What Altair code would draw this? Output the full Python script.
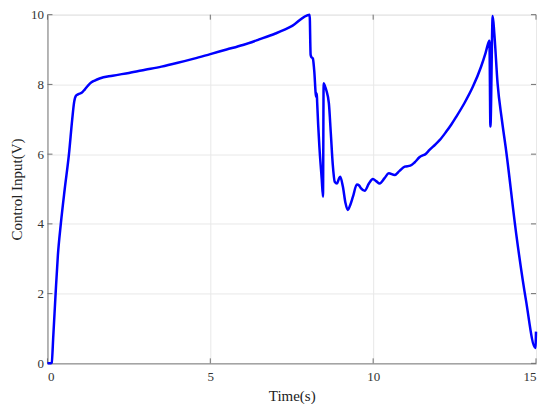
import altair as alt
import pandas as pd

time = [0, 0.1, 0.13, 0.18, 0.25, 0.32, 0.41, 0.53, 0.66, 0.76, 0.82, 0.88, 0.95, 1.05,
        1.15, 1.25, 1.35, 1.45, 1.6, 2.0, 2.5, 3.0, 3.5, 4.0, 4.5, 5.0, 5.5, 6.0, 6.5,
        7.0, 7.5, 8.05, 8.08, 8.10, 8.15, 8.19, 8.25, 8.27, 8.28, 8.35, 8.42, 8.46,
        8.48, 8.52, 8.56, 8.64, 8.70, 8.76, 8.82, 8.89, 8.95, 8.99, 9.07, 9.15, 9.22,
        9.30, 9.38, 9.50, 9.57, 9.63, 9.74, 9.87, 9.99, 10.10, 10.20, 10.35, 10.48,
        10.66, 10.81, 10.97, 11.14, 11.27, 11.42, 11.63, 11.73, 11.9, 12.04, 12.24,
        12.4, 12.55, 12.80, 13.06, 13.31, 13.45, 13.55, 13.57, 13.60, 13.67, 13.72,
        13.82, 13.95, 14.08, 14.39, 14.69, 14.98, 15.0]
ctrl = [0, 0, 0.02, 0.8, 2.0, 3.1, 4.0, 5.0, 6.0, 7.0, 7.5, 7.68, 7.72, 7.76,
        7.86, 7.97, 8.06, 8.11, 8.17, 8.25, 8.33, 8.42, 8.51, 8.62, 8.74, 8.87, 9.0,
        9.13, 9.29, 9.46, 9.67, 10.0, 8.85, 8.79, 8.74, 8.4, 7.64, 7.74, 7.5, 6.2,
        5.3, 4.78, 8.03, 7.95, 7.84, 7.46, 6.6, 5.7, 5.21, 5.16, 5.3, 5.35, 5.07,
        4.6, 4.40, 4.55, 4.78, 5.13, 5.10, 5.02, 4.95, 5.16, 5.29, 5.22, 5.16, 5.31,
        5.45, 5.40, 5.52, 5.64, 5.67, 5.76, 5.91, 6.02, 6.12, 6.27, 6.40, 6.64, 6.85,
        7.07, 7.46, 7.93, 8.50, 8.9, 9.22, 9.25, 6.79, 9.96, 9.46, 8.03, 7.0, 6.12,
        3.73, 1.82, 0.44, 0.91]

x_ticks = [0, 5, 10, 15]
y_ticks = [0, 2, 4, 6, 8, 10]

W, H = 489, 349
FONT = "Liberation Serif"

df = pd.DataFrame({"time": time, "ctrl": ctrl})
dfx = pd.DataFrame({"time": x_ticks})
dfy = pd.DataFrame({"ctrl": y_ticks})

xaxis = alt.Axis(values=x_ticks, title="Time(s)", ticks=False, labelPadding=7,
                 titlePadding=5, domainColor="#808080", gridColor="#e8e8e8",
                 labelColor="#333333", titleColor="#222222", labelFontSize=13,
                 titleFontSize=15, labelFont=FONT, titleFont=FONT,
                 titleFontWeight="normal")
yaxis = alt.Axis(values=y_ticks, title="Control Input(V)", ticks=False, labelPadding=4,
                 titlePadding=6, domainColor="#808080", gridColor="#e8e8e8",
                 labelColor="#333333", titleColor="#222222", labelFontSize=13,
                 titleFontSize=15, labelFont=FONT, titleFont=FONT,
                 titleFontWeight="normal")
xs = alt.Scale(domain=[0, 15], nice=False)
ys = alt.Scale(domain=[0, 10], nice=False)

line = alt.Chart(df).mark_line(color="#0000ff", strokeWidth=2.5, interpolate="monotone").encode(
    x=alt.X("time:Q", scale=xs, axis=xaxis),
    y=alt.Y("ctrl:Q", scale=ys, axis=yaxis),
)

tick_col = "#707070"
xb = alt.Chart(dfx).mark_rule(color=tick_col, strokeWidth=1).encode(
    x=alt.X("time:Q", scale=xs, axis=xaxis), y=alt.value(H), y2=alt.value(H - 5))
xt = alt.Chart(dfx).mark_rule(color=tick_col, strokeWidth=1).encode(
    x=alt.X("time:Q", scale=xs, axis=xaxis), y=alt.value(0), y2=alt.value(5))
yl = alt.Chart(dfy).mark_rule(color=tick_col, strokeWidth=1).encode(
    y=alt.Y("ctrl:Q", scale=ys, axis=yaxis), x=alt.value(0), x2=alt.value(5))
yr = alt.Chart(dfy).mark_rule(color=tick_col, strokeWidth=1).encode(
    y=alt.Y("ctrl:Q", scale=ys, axis=yaxis), x=alt.value(W - 5), x2=alt.value(W))

chart = alt.layer(xb, xt, yl, yr, line).properties(
    width=W, height=H,
    autosize=alt.AutoSizeParams(type="none"),
    padding={"left": 39.5, "top": 6.5, "right": 6, "bottom": 40},
).configure_view(stroke="#808080", strokeWidth=1).configure(background="white")

chart.save("out.html", embed_options={"renderer": "svg", "actions": False})
